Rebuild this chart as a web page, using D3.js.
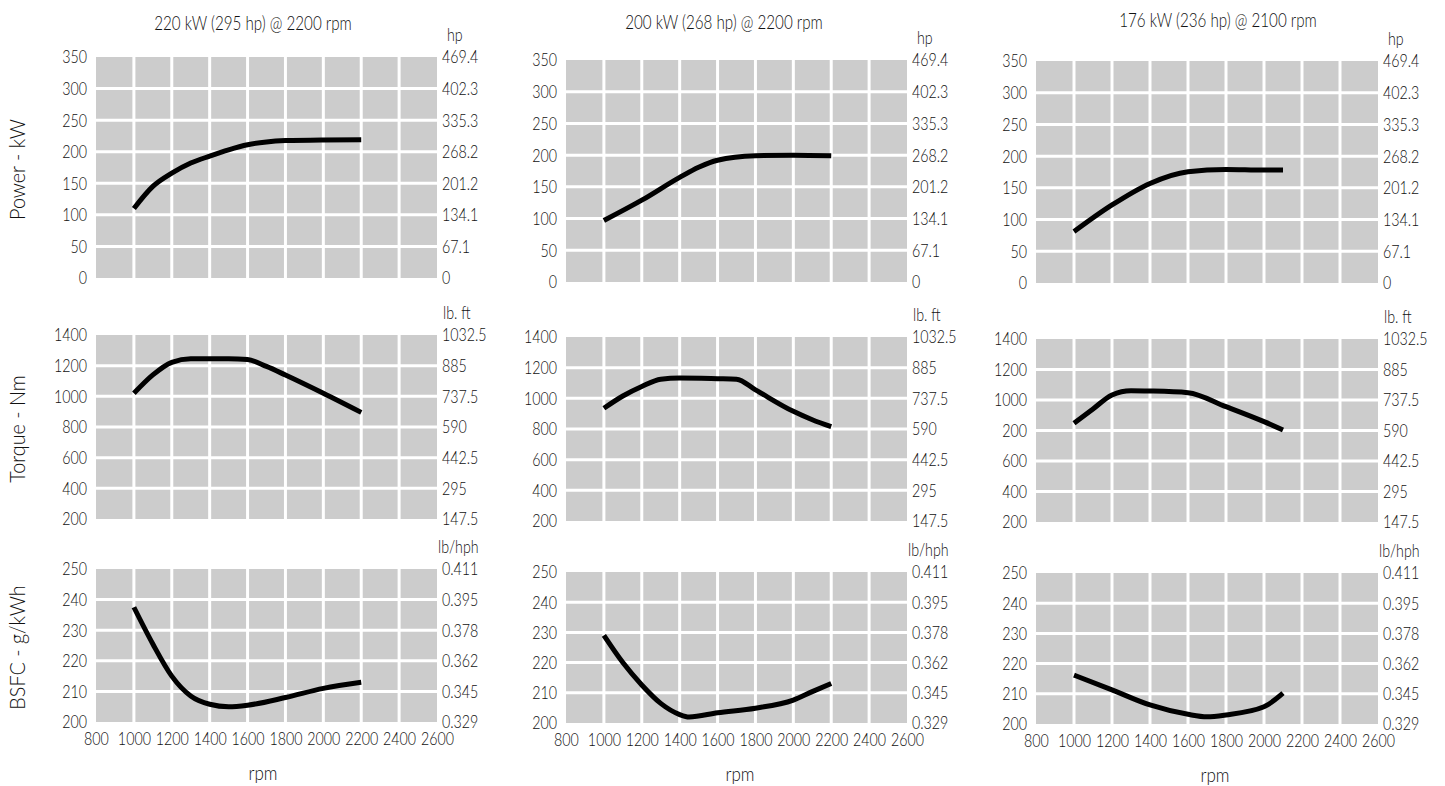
<!DOCTYPE html>
<meta charset="utf-8">
<style>
body { margin: 0; background: #fff; }
text { font-family: Lato, "Liberation Sans", sans-serif; font-weight: 300; fill: #111; }
</style>
<body>
<script src="https://cdnjs.cloudflare.com/ajax/libs/d3/7.8.5/d3.min.js"></script>
<script>

var width = 1445,
    height = 786;

// titles
var titles = ["220 kW (295 hp) @ 2200 rpm", "200 kW (268 hp) @ 2200 rpm", "176 kW (236 hp) @ 2100 rpm"];

// x axis
var rpmTicks = [800, 1000, 1200, 1400, 1600, 1800, 2000, 2200, 2400, 2600];

// power (kW) / hp
var powerTicks = [0, 50, 100, 150, 200, 250, 300, 350];
var hpLabels = ["0", "67.1", "134.1", "201.2", "268.2", "335.3", "402.3", "469.4"];

// torque (Nm) / lb. ft
var torqueTicks = [200, 400, 600, 800, 1000, 1200, 1400];
var torqueLabels = ["200", "400", "600", "800", "1000", "1200", "1400"];
var torqueLabels3 = ["200", "400", "600", "200", "1000", "1200", "1400"];
var lbftLabels = ["147.5", "295", "442.5", "590", "737.5", "885", "1032.5"];

// bsfc (g/kWh) / lb/hph
var bsfcTicks = [200, 210, 220, 230, 240, 250];
var lbhphLabels = ["0.329", "0.345", "0.362", "0.378", "0.395", "0.411"];

// engine 1
var power1Rpm = [1000, 1100, 1200, 1300, 1400, 1500, 1600, 1700, 1800, 2000, 2200];
var power1 = [110, 145, 166, 182, 193, 203, 211, 215.5, 217.6, 218.7, 219];
var torque1Rpm = [1000, 1100, 1200, 1300, 1400, 1500, 1600, 1700, 1800, 2000, 2200];
var torque1 = [1020, 1140, 1222, 1245, 1245, 1245, 1240, 1195, 1139, 1020, 895];
var bsfc1Rpm = [1000, 1100, 1200, 1300, 1400, 1500, 1600, 1800, 2000, 2200];
var bsfc1 = [237.5, 225.5, 215, 208.5, 205.8, 205, 205.5, 208, 211, 213];

// engine 2
var power2Rpm = [1000, 1200, 1400, 1500, 1600, 1800, 2000, 2200];
var power2 = [97, 129, 165, 181, 192, 199, 200, 199];
var torque2Rpm = [1000, 1100, 1200, 1300, 1400, 1600, 1700, 1800, 2000, 2100, 2200];
var torque2 = [935, 1015, 1077, 1125, 1132, 1128, 1125, 1055, 915, 860, 815];
var bsfc2Rpm = [1000, 1100, 1200, 1300, 1400, 1450, 1600, 1800, 2000, 2100, 2200];
var bsfc2 = [229, 220, 212.6, 206.5, 202.8, 202, 203.4, 204.9, 207.6, 210.4, 213.1];

// engine 3
var power3Rpm = [1000, 1200, 1400, 1600, 1800, 2000, 2100];
var power3 = [81, 123, 157, 175.5, 179, 178, 178];
var torque3Rpm = [1000, 1100, 1200, 1300, 1400, 1600, 1800, 2000, 2100];
var torque3 = [847, 941, 1033, 1061, 1059, 1048, 956, 858, 803];
var bsfc3Rpm = [1000, 1200, 1400, 1600, 1700, 1800, 2000, 2100];
var bsfc3 = [216.2, 211.3, 206.3, 203.2, 202.4, 203, 205.7, 210.2];

// layout
var colLeft = [96, 566, 1036],
    colRight = [437, 907, 1378];
var rowTop = [[57, 335, 569], [60, 337, 572], [61, 339, 573]],
    rowBottom = [[278, 519, 722], [282, 521, 723], [283, 522, 724]];
var titleX = [253, 724, 1218], titleY = [23, 22, 20];
var rpmX = [263, 740, 1215];

var rows = [
  { ticks: powerTicks, right: hpLabels, unit: "hp", unitDx: 10, label: "Power - kW" },
  { ticks: torqueTicks, right: lbftLabels, unit: "lb. ft", unitDx: 6, label: "Torque - Nm" },
  { ticks: bsfcTicks, right: lbhphLabels, unit: "lb/hph", unitDx: 1, label: "BSFC - g/kWh" }
];

var series = [
  [[power1Rpm, power1], [torque1Rpm, torque1], [bsfc1Rpm, bsfc1]],
  [[power2Rpm, power2], [torque2Rpm, torque2], [bsfc2Rpm, bsfc2]],
  [[power3Rpm, power3], [torque3Rpm, torque3], [bsfc3Rpm, bsfc3]]
];

var fs = 18.5,
    squeezeK = 0.77;

var svg = d3.select("body").append("svg")
    .attr("width", width)
    .attr("height", height);

// narrow the text horizontally, the original uses a condensed face
function squeeze(sel, k) {
  sel.each(function() {
    var t = d3.select(this);
    var tx = +t.attr("x") || 0, ty = +t.attr("y") || 0;
    var pre = t.attr("transform") || ("translate(" + tx + "," + ty + ")");
    t.attr("x", null).attr("y", null)
        .attr("transform", pre + " scale(" + k + ",1)");
  });
}

for (var c = 0; c < 3; ++c) {
  svg.append("text")
      .attr("x", titleX[c])
      .attr("y", titleY[c])
      .attr("dy", "0.35em")
      .attr("text-anchor", "middle")
      .style("font-size", "20px")
      .text(titles[c])
      .call(squeeze, 0.76);

  var x = d3.scaleLinear().domain([800, 2600]).range([colLeft[c], colRight[c]]);

  for (var r = 0; r < 3; ++r) {
    var row = rows[r];
    var yTop = rowTop[c][r], yBottom = rowBottom[c][r];
    var y = d3.scaleLinear()
        .domain([row.ticks[0], row.ticks[row.ticks.length - 1]])
        .range([yBottom, yTop]);
    var g = svg.append("g");

    g.append("rect")
        .attr("x", colLeft[c])
        .attr("y", yTop)
        .attr("width", colRight[c] - colLeft[c])
        .attr("height", yBottom - yTop)
        .attr("fill", "#cccccc");

    g.selectAll(".vg")
        .data(rpmTicks.slice(1, -1))
      .enter().append("line")
        .attr("x1", function(d) { return x(d); })
        .attr("x2", function(d) { return x(d); })
        .attr("y1", yTop)
        .attr("y2", yBottom)
        .attr("stroke", "#fff")
        .attr("stroke-width", 3);

    g.selectAll(".hg")
        .data(row.ticks.slice(1, -1))
      .enter().append("line")
        .attr("x1", colLeft[c])
        .attr("x2", colRight[c])
        .attr("y1", function(d) { return y(d); })
        .attr("y2", function(d) { return y(d); })
        .attr("stroke", "#fff")
        .attr("stroke-width", 3);

    var leftLabels = r == 1 ? (c == 2 ? torqueLabels3 : torqueLabels) : null;
    var left = d3.axisLeft(y)
        .tickValues(row.ticks)
        .tickSize(0)
        .tickPadding(9)
        .tickFormat(function(d, i) { return leftLabels ? leftLabels[i] : d; });
    var la = g.append("g").attr("transform", "translate(" + colLeft[c] + ",0)").call(left);

    var rightLabels = row.right;
    var right = d3.axisRight(y)
        .tickValues(row.ticks)
        .tickSize(0)
        .tickPadding(5)
        .tickFormat(function(d, i) { return rightLabels[i]; });
    var ra = g.append("g").attr("transform", "translate(" + colRight[c] + ",0)").call(right);

    [la, ra].forEach(function(a) {
      a.select(".domain").remove();
      a.selectAll("text").style("font-size", fs + "px").attr("fill", "#111").call(squeeze, squeezeK);
    });

    g.append("text")
        .attr("x", colRight[c] + row.unitDx)
        .attr("y", yTop - 22)
        .attr("dy", "0.35em")
        .style("font-size", fs + "px")
        .text(row.unit)
        .call(squeeze, squeezeK);

    if (c == 0) {
      g.append("text")
          .attr("transform", "translate(17," + ((yTop + yBottom) / 2 + 2) + ") rotate(-90)")
          .attr("dy", "0.35em")
          .attr("text-anchor", "middle")
          .style("font-size", "22px")
          .text(row.label)
          .call(squeeze, 0.9);
    }

    if (r == 2) {
      var bottomAxis = d3.axisBottom(x)
          .tickValues(rpmTicks)
          .tickSize(0)
          .tickPadding(10)
          .tickFormat(d3.format("d"));
      var ba = g.append("g").attr("transform", "translate(0," + yBottom + ")").call(bottomAxis);
      ba.select(".domain").remove();
      ba.selectAll("text").style("font-size", fs + "px").attr("fill", "#111").call(squeeze, squeezeK);
      g.append("text")
          .attr("x", rpmX[c])
          .attr("y", yBottom + 51)
          .attr("dy", "0.35em")
          .attr("text-anchor", "middle")
          .style("font-size", "20px")
          .text("rpm")
          .call(squeeze, 0.85);
    }

    var s = series[c][r];
    var pts = s[0].map(function(v, i) { return [v, s[1][i]]; });
    var line = d3.line()
        .x(function(d) { return x(d[0]); })
        .y(function(d) { return y(d[1]); })
        .curve(d3.curveMonotoneX);
    g.append("path")
        .datum(pts)
        .attr("d", line)
        .attr("fill", "none")
        .attr("stroke", "#000")
        .attr("stroke-width", 5);
  }
}
</script>
